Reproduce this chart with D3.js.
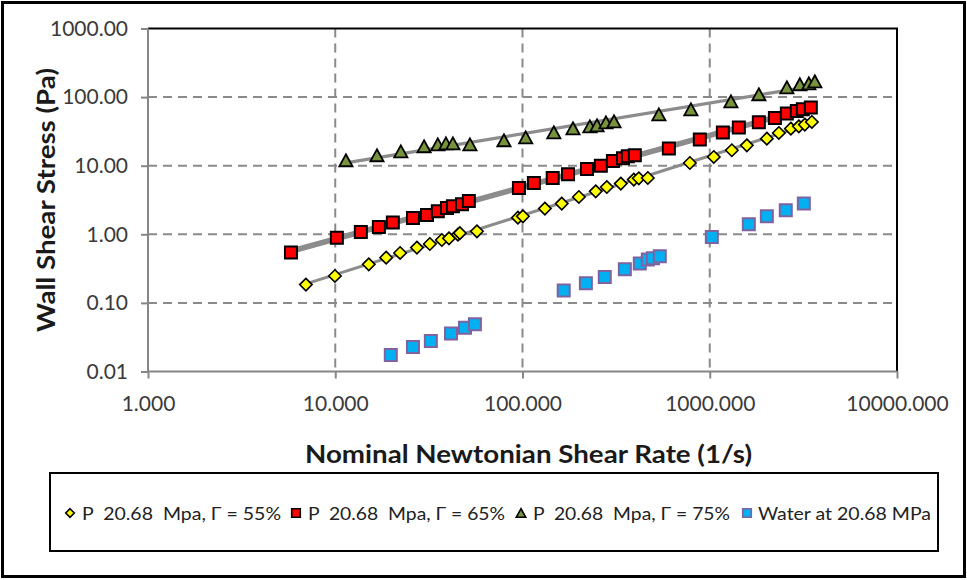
<!DOCTYPE html>
<html>
<head>
<meta charset="utf-8">
<script src="https://cdn.jsdelivr.net/npm/d3@7/dist/d3.min.js"></script>
<style>
  html, body { margin: 0; padding: 0; background: #fff; }
  svg { display: block; }
  text { font-family: Lato, "Open Sans", "Liberation Sans", sans-serif; }
</style>
</head>
<body>
<svg id="chart" width="967" height="580"></svg>
<script>
// Wall shear stress vs. nominal Newtonian shear rate at 20.68 MPa
const slurry55X = [6.97, 9.96, 15.1, 18.7, 22.2, 27.3, 32.0, 37.1, 40.5, 45.2, 46.3, 57.1, 94.5, 100.5, 131.7, 162, 200, 246, 282, 335, 393, 418, 467, 783, 1051, 1312, 1578, 2018, 2339, 2711, 2991, 3220, 3510];
const slurry55Y = [0.185, 0.247, 0.365, 0.457, 0.534, 0.640, 0.722, 0.826, 0.874, 0.99, 1.04, 1.106, 1.75, 1.83, 2.37, 2.80, 3.50, 4.23, 4.89, 5.48, 6.27, 6.55, 6.62, 10.95, 13.4, 16.8, 19.8, 24.8, 30.0, 34.7, 37.5, 39.7, 43.4];

const slurry65X = [5.80, 10.2, 13.7, 17.1, 20.3, 26.0, 30.9, 35.3, 39.5, 42.5, 47.5, 51.7, 95.7, 115, 145, 175, 221, 262, 304, 344, 365, 398, 605, 885, 1175, 1430, 1829, 2228, 2581, 2917, 3141, 3466];
const slurry65Y = [0.541, 0.889, 1.08, 1.28, 1.48, 1.73, 1.91, 2.16, 2.42, 2.56, 2.74, 3.06, 4.73, 5.60, 6.62, 7.49, 8.95, 10.0, 11.7, 12.8, 13.7, 14.2, 17.8, 24.0, 30.5, 35.9, 42.9, 49.6, 57.5, 62.7, 66.4, 70.3];

const slurry75X = [11.4, 16.7, 22.4, 29.8, 35.3, 39.0, 42.5, 52.4, 79.6, 104, 147, 186, 229, 250, 279, 308, 535, 793, 1297, 1829, 2581, 3028, 3381, 3640];
const slurry75Y = [12.0, 14.2, 16.2, 19.2, 20.5, 21.2, 21.2, 20.5, 23.5, 25.9, 30.7, 35.1, 37.5, 38.8, 42.9, 44.4, 56.1, 66.4, 86.9, 110, 139, 154, 159, 170];

const waterX = [19.8, 26.0, 32.4, 41.5, 49.3, 55.7, 166, 218, 275, 352, 423, 467, 497, 541, 1026, 1617, 2018, 2547, 3180];
const waterY = [0.0174, 0.0228, 0.0278, 0.0357, 0.0436, 0.0488, 0.151, 0.193, 0.239, 0.309, 0.374, 0.428, 0.447, 0.478, 0.913, 1.40, 1.83, 2.24, 2.80];

const xTicks = [1, 10, 100, 1000, 10000];
const yTicks = [0.01, 0.1, 1, 10, 100, 1000];

const seriesLabels = ["P  20.68  Mpa, \u0393 = 55%", "P  20.68  Mpa, \u0393 = 65%", "P  20.68  Mpa, \u0393 = 75%", "Water at 20.68 MPa"];
const xTitle = "Nominal Newtonian Shear Rate (1/s)";
const yTitle = "Wall Shear Stress (Pa)";

// marker shapes (bounding box centred on the point)
const shapes = {
  diamond: s => `M0,${-s}L${s},0L0,${s}L${-s},0Z`,
  square: s => `M${-s},${-s}H${s}V${s}H${-s}Z`,
  triangle: s => `M0,${-s}L${s * 1.1},${s}L${-s * 1.1},${s}Z`
};

const series = [
  { xs: slurry55X, ys: slurry55Y, shape: "diamond", size: 6.2, fill: "#FFFF00", stroke: "#000", sw: 1.6, trend: 3 },
  { xs: slurry65X, ys: slurry65Y, shape: "square", size: 6, fill: "#FF0000", stroke: "#000", sw: 2, trend: 5.5 },
  { xs: slurry75X, ys: slurry75Y, shape: "triangle", size: 6, fill: "#77933C", stroke: "#000", sw: 1.8, trend: 3.2 },
  { xs: waterX, ys: waterY, shape: "square", size: 6, fill: "#00B0F0", stroke: "#7F62A0", sw: 2, trend: 0 }
];
series.forEach((s, i) => s.label = seriesLabels[i]);

const svg = d3.select("#chart");

// outer frame
svg.append("rect").attr("x", 2.5).attr("y", 2.5).attr("width", 962).attr("height", 574)
  .attr("fill", "#fff").attr("stroke", "#000").attr("stroke-width", 3);

const x = d3.scaleLog().domain([1, 10000]).range([148, 897]);
const y = d3.scaleLog().domain([0.01, 1000]).range([371.5, 28.5]);

const gridColor = "#8a8a8a";

// dashed gridlines
svg.append("g").selectAll("line").data([0.1, 1, 10, 100]).join("line")
  .attr("x1", x(1)).attr("x2", x(10000) - 4)
  .attr("y1", d => y(d)).attr("y2", d => y(d))
  .attr("stroke", gridColor).attr("stroke-width", 2).attr("stroke-dasharray", "9,6");
svg.append("g").selectAll("line").data([10, 100, 1000]).join("line")
  .attr("x1", d => x(d)).attr("x2", d => x(d))
  .attr("y1", y(1000)).attr("y2", y(0.01))
  .attr("stroke", gridColor).attr("stroke-width", 2).attr("stroke-dasharray", "9,6");

// plot-area border (top and right)
svg.append("path")
  .attr("d", `M${x(1)},${y(1000)}H${x(10000)}V${y(0.01)}`)
  .attr("fill", "none").attr("stroke", "#000").attr("stroke-width", 2);

// axes
const yAxis = svg.append("g").attr("transform", `translate(${x(1)},0)`)
  .call(d3.axisLeft(y).tickValues(yTicks).tickFormat(d3.format(".2f")).tickSize(7).tickPadding(13));
const xAxis = svg.append("g").attr("transform", `translate(0,${y(0.01)})`)
  .call(d3.axisBottom(x).tickValues(xTicks).tickFormat(d3.format(".3f")).tickSize(7).tickPadding(18));
[xAxis, yAxis].forEach(g => {
  g.select(".domain").attr("stroke", "#868686").attr("stroke-width", 2);
  g.selectAll(".tick line").attr("stroke", "#868686").attr("stroke-width", 2);
  g.selectAll(".tick text").attr("fill", "#3a3a3a").attr("font-size", 21)
    .style("font-family", "Lato, 'Open Sans', sans-serif");
});
xAxis.select(".domain").attr("d", `M${x(1)},0H${x(10000)}`);
yAxis.select(".domain").attr("d", `M0,${y(0.01)}V${y(1000)}`);

// power-law trend lines (least squares in log-log space)
function powerFit(xs, ys) {
  const lx = xs.map(Math.log10), ly = ys.map(Math.log10);
  const mx = d3.mean(lx), my = d3.mean(ly);
  const b = d3.sum(lx, (v, i) => (v - mx) * (ly[i] - my)) / d3.sum(lx, v => (v - mx) ** 2);
  const a = my - b * mx;
  return v => Math.pow(10, a + b * Math.log10(v));
}
series.filter(s => s.trend > 0).forEach(s => {
  const f = powerFit(s.xs, s.ys);
  const x0 = d3.min(s.xs), x1 = d3.max(s.xs);
  svg.append("line")
    .attr("x1", x(x0)).attr("y1", y(f(x0)))
    .attr("x2", x(x1)).attr("y2", y(f(x1)))
    .attr("stroke", "#8c8c8c").attr("stroke-width", s.trend).attr("stroke-linecap", "round");
});

// markers
series.forEach(s => {
  svg.append("g").selectAll("path").data(s.xs.map((v, i) => [v, s.ys[i]])).join("path")
    .attr("transform", d => `translate(${x(d[0])},${y(d[1])})`)
    .attr("d", shapes[s.shape](s.size))
    .attr("fill", s.fill).attr("stroke", s.stroke).attr("stroke-width", s.sw)
    .attr("stroke-linejoin", "miter");
});

// axis titles
svg.append("text").attr("x", 528.5).attr("y", 463).attr("text-anchor", "middle")
  .attr("font-size", 24).attr("font-weight", "bold").attr("fill", "#1a1a1a")
  .attr("textLength", 447).attr("lengthAdjust", "spacingAndGlyphs").text(xTitle);
svg.append("text").attr("transform", "translate(55,200) rotate(-90)").attr("text-anchor", "middle")
  .attr("font-size", 24).attr("font-weight", "bold").attr("fill", "#1a1a1a")
  .attr("textLength", 264).attr("lengthAdjust", "spacingAndGlyphs").text(yTitle);

// legend
svg.append("rect").attr("x", 50).attr("y", 473).attr("width", 888).attr("height", 78)
  .attr("fill", "#fff").attr("stroke", "#000").attr("stroke-width", 2);
const legendItems = [
  { mx: 70, tx: 82, tw: 199 },
  { mx: 296, tx: 308, tw: 197 },
  { mx: 521, tx: 533, tw: 197 },
  { mx: 747, tx: 758, tw: 173 }
];
const ly = 513;
series.forEach((s, i) => {
  const it = legendItems[i];
  svg.append("path").attr("transform", `translate(${it.mx},${ly})`)
    .attr("d", shapes[s.shape](4.3))
    .attr("fill", s.fill).attr("stroke", s.stroke).attr("stroke-width", 1.6);
  svg.append("text").attr("x", it.tx).attr("y", ly + 6.5)
    .attr("font-size", 18).attr("fill", "#222")
    .style("white-space", "pre")
    .attr("textLength", it.tw).attr("lengthAdjust", "spacingAndGlyphs")
    .text(s.label);
});
</script>
</body>
</html>
